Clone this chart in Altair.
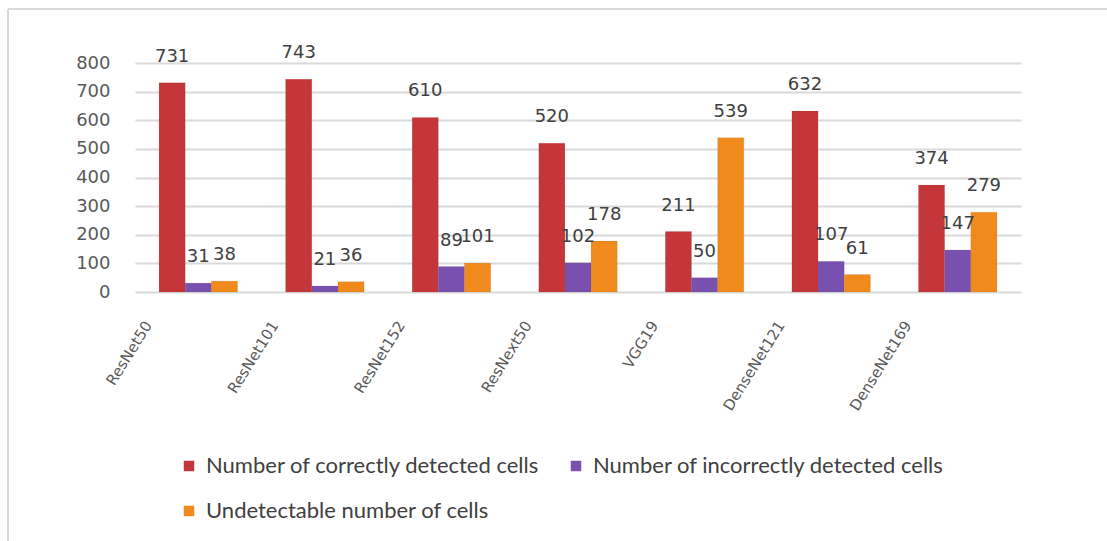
import altair as alt
import pandas as pd

models = ["ResNet50", "ResNet101", "ResNet152", "ResNext50", "VGG19", "DenseNet121", "DenseNet169"]
correct = [731, 743, 610, 520, 211, 632, 374]
incorrect = [31, 21, 89, 102, 50, 107, 147]
undetectable = [38, 36, 101, 178, 539, 61, 279]

series_names = [
    "Number of correctly detected cells",
    "Number of incorrectly detected cells",
    "Undetectable number of cells",
]
series_colors = ["#C5363A", "#7A50AE", "#F08A1D"]
y_ticks = [0, 100, 200, 300, 400, 500, 600, 700, 800]

rows = []
for i, m in enumerate(models):
    for name, vals in zip(series_names, [correct, incorrect, undetectable]):
        rows.append({"model": m, "series": name, "value": vals[i]})
df = pd.DataFrame(rows)

W, H = 886, 229
LEFT, TOP = 135, 63

x_enc = alt.X(
    "model:N",
    sort=models,
    title=None,
    scale=alt.Scale(paddingInner=0.38, paddingOuter=0.19),
    axis=alt.Axis(
        labelAngle=-58,
        labelAlign="right",
        labelBaseline="middle",
        labelFont="DejaVu Sans",
        labelFontSize=15,
        labelColor="#595959",
        labelOffset=-50,
        labelPadding=30,
        domain=False,
        ticks=False,
    ),
)
y_enc = alt.Y(
    "value:Q",
    title=None,
    scale=alt.Scale(domain=[0, 800], nice=False),
    axis=alt.Axis(
        values=y_ticks,
        tickCount=9,
        labelOverlap=False,
        labelFont="DejaVu Sans",
        labelFontSize=18,
        labelColor="#595959",
        labelPadding=25,
        domain=False,
        ticks=False,
        gridColor="#D9D9D9",
        gridWidth=2,
    ),
)
offset = alt.XOffset("series:N", sort=series_names)
color = alt.Color(
    "series:N",
    sort=series_names,
    scale=alt.Scale(domain=series_names, range=series_colors),
    legend=alt.Legend(
        title=None,
        orient="none",
        legendX=43,
        legendY=392,
        direction="horizontal",
        columns=2,
        symbolType="square",
        symbolSize=110,
        symbolStrokeWidth=0,
        labelFont="Lato",
        labelFontSize=22,
        labelColor="#404040",
        labelLimit=500,
        columnPadding=25,
        rowPadding=23,
        labelOffset=6,
    ),
)

base = alt.Chart(df).encode(x=x_enc, xOffset=offset, y=y_enc)

bars = base.mark_bar(stroke="#00000022", strokeWidth=0.5).encode(color=color)

labels = base.mark_text(
    baseline="bottom", dy=-17, font="DejaVu Sans", fontSize=18, color="#404040"
).encode(text="value:Q")

# outer chart frame
frame_top = alt.Chart(df).mark_rule(color="#D9D9D9", strokeWidth=2).encode(
    x=alt.value(8 - LEFT), x2=alt.value(1107 - LEFT), y=alt.value(9 - TOP)
)
frame_left = alt.Chart(df).mark_rule(color="#D9D9D9", strokeWidth=2).encode(
    x=alt.value(8 - LEFT), y=alt.value(9 - TOP), y2=alt.value(541 - TOP)
)

chart = (
    alt.layer(bars, labels, frame_top, frame_left)
    .properties(
        width=W,
        height=H,
        autosize=alt.AutoSizeParams(type="none"),
        padding={"left": LEFT, "top": TOP, "right": 1107 - LEFT - W, "bottom": 541 - TOP - H},
        background="white",
    )
    .configure_view(stroke=None)
)

chart.save("out.html", embed_options={"renderer": "svg", "actions": False})
